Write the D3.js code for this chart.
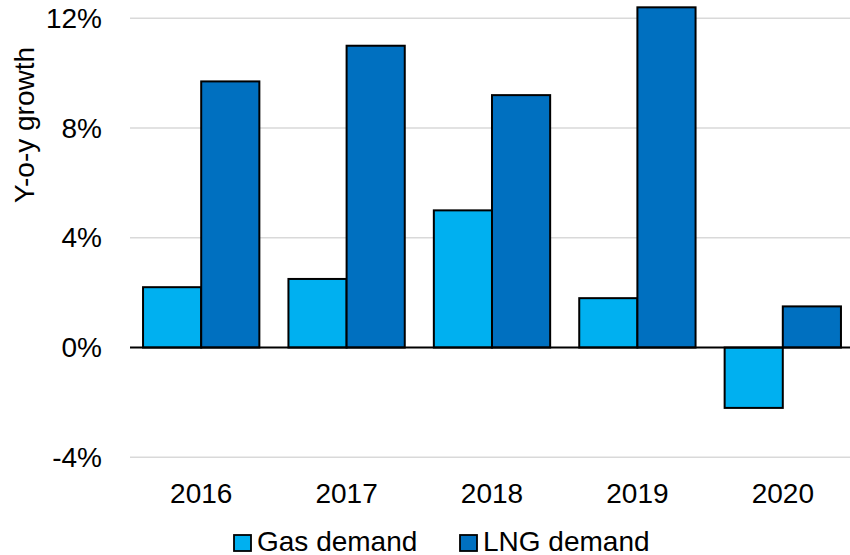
<!DOCTYPE html>
<html>
<head>
<meta charset="utf-8">
<script src="https://cdn.jsdelivr.net/npm/d3@7"></script>
<style>
  html, body { margin: 0; padding: 0; background: #fff; }
  svg { display: block; font-family: "Liberation Sans", Arial, sans-serif; }
</style>
</head>
<body>
<svg id="chart" width="850" height="555"></svg>
<script>
const categories = ["2016", "2017", "2018", "2019", "2020"];
const gasDemand = [2.2, 2.5, 5.0, 1.8, -2.2];
const lngDemand = [9.7, 11.0, 9.2, 12.4, 1.5];
const seriesNames = ["Gas demand", "LNG demand"];
const seriesColors = ["#00B0F0", "#0070C0"];
const yTicks = [-4, 0, 4, 8, 12];
const yTitle = "Y-o-y growth";

const series = [gasDemand, lngDemand];
const svg = d3.select("#chart");
const fontSize = 28;

const plotLeft = 128.5, plotRight = 855.5, plotTop = 18.3, plotBottom = 457.3;

const x0 = d3.scaleBand().domain(categories).range([plotLeft, plotRight]).padding(0);
const x1 = d3.scaleBand().domain(seriesNames)
  .range([x0.bandwidth() * 0.1, x0.bandwidth() * 0.9]).padding(0);
const y = d3.scaleLinear().domain([-4, 12]).range([plotBottom, plotTop]);

// gridlines
svg.append("g").selectAll("line")
  .data(yTicks.filter(t => t !== 0))
  .join("line")
  .attr("x1", 130).attr("x2", 850)
  .attr("y1", d => y(d)).attr("y2", d => y(d))
  .attr("stroke", "#d9d9d9").attr("stroke-width", 1.5);

// y axis labels
const yAxis = d3.axisLeft(y).tickValues(yTicks).tickFormat(d => d + "%").tickSize(0).tickPadding(28);
const yg = svg.append("g").attr("transform", `translate(130,0)`).call(yAxis);
yg.select(".domain").remove();
yg.selectAll("text").attr("font-size", fontSize).attr("fill", "#000")
  .attr("font-family", "'Liberation Sans', Arial, sans-serif");

// x axis labels
const xAxis = d3.axisBottom(x0).tickSize(0).tickPadding(26);
const xg = svg.append("g").attr("transform", `translate(0,${plotBottom})`).call(xAxis);
xg.select(".domain").remove();
xg.selectAll("text").attr("font-size", fontSize).attr("fill", "#000")
  .attr("font-family", "'Liberation Sans', Arial, sans-serif");

// bars
const groups = svg.append("g").selectAll("g")
  .data(categories)
  .join("g")
  .attr("transform", d => `translate(${x0(d)},0)`);

groups.selectAll("rect")
  .data((c, i) => seriesNames.map((s, j) => ({ s, v: series[j][i], color: seriesColors[j] })))
  .join("rect")
  .attr("x", d => x1(d.s))
  .attr("width", x1.bandwidth())
  .attr("y", d => y(Math.max(0, d.v)))
  .attr("height", d => Math.abs(y(d.v) - y(0)))
  .attr("fill", d => d.color)
  .attr("stroke", "#000")
  .attr("stroke-width", 2);

// zero line
svg.append("line")
  .attr("x1", 130).attr("x2", 850)
  .attr("y1", y(0)).attr("y2", y(0))
  .attr("stroke", "#000").attr("stroke-width", 2);

// y title
svg.append("text")
  .attr("transform", `translate(34,125) rotate(-90)`)
  .attr("text-anchor", "middle")
  .attr("font-size", fontSize)
  .attr("fill", "#000")
  .text(yTitle);

// legend
const legendX = [234, 460];
const legend = svg.append("g").selectAll("g")
  .data(seriesNames)
  .join("g")
  .attr("transform", (d, i) => `translate(${legendX[i]},535)`);
legend.append("rect")
  .attr("width", 17).attr("height", 16)
  .attr("fill", (d, i) => seriesColors[i])
  .attr("stroke", "#000").attr("stroke-width", 1.8);
legend.append("text")
  .attr("x", 23).attr("y", 15.5)
  .attr("font-size", fontSize)
  .attr("fill", "#000")
  .text(d => d);
</script>
</body>
</html>
